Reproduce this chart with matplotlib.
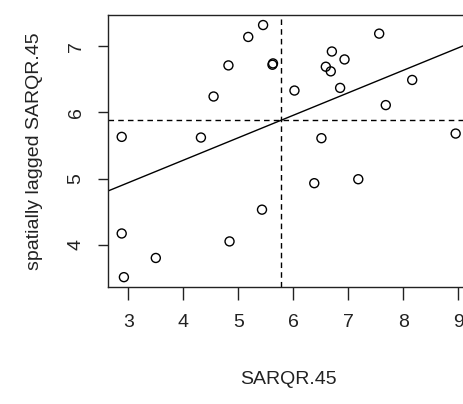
import numpy as np
import matplotlib
matplotlib.use("Agg")
import matplotlib.pyplot as plt

# Moran scatterplot data: SARQR.45 vs its spatial lag
sarqr = [2.88, 4.32, 4.55, 4.82, 5.18, 5.45, 5.62, 5.63, 6.02, 6.51,
         6.85, 6.70, 6.59, 6.68, 6.93, 7.56, 8.16, 7.68, 8.95, 2.88,
         2.92, 3.50, 4.84, 5.43, 6.38, 7.18]
lagged = [5.63, 5.62, 6.24, 6.71, 7.14, 7.32, 6.72, 6.74, 6.33, 5.61,
          6.37, 6.92, 6.69, 6.62, 6.80, 7.19, 6.49, 6.11, 5.68, 4.17,
          3.51, 3.80, 4.05, 4.53, 4.93, 4.99]
x_ticks = [3, 4, 5, 6, 7, 8, 9]
y_ticks = [4, 5, 6, 7]

plt.rcParams['font.family'] = ['Liberation Sans', 'DejaVu Sans']

x = np.array(sarqr)
y = np.array(lagged)

fig = plt.figure(figsize=(4.63, 4.04), dpi=100)
# axes run past the right edge, like the cropped original
ax = fig.add_axes([0.234, 0.289, 0.779, 0.674])

ax.scatter(x, y, s=42, facecolors='none', edgecolors='black', linewidths=1.0, zorder=3)

# R-style 4% padding on each side
xr = x.max() - x.min()
yr = y.max() - y.min()
xlim = (x.min() - 0.04 * xr, x.max() + 0.04 * xr)
ylim = (y.min() - 0.04 * yr, y.max() + 0.04 * yr)

slope, intercept = np.polyfit(x, y, 1)
xs = np.array(xlim)
ax.plot(xs, intercept + slope * xs, color='black', lw=1.0)
ax.axvline(x.mean(), color='black', lw=1.0, ls=(0, (4, 3)))
ax.axhline(y.mean(), color='black', lw=1.0, ls=(0, (4, 3)))

ax.set_xlim(xlim)
ax.set_ylim(ylim)
ax.set_xticks(x_ticks)
ax.set_yticks(y_ticks)
ax.tick_params(axis='both', width=1, labelsize=14, colors='#222222')
ax.tick_params(axis='x', length=9, pad=10)
ax.tick_params(axis='y', length=7.5, pad=9.5)
for lab in ax.get_yticklabels():
    lab.set_rotation(90)
    lab.set_va('center')

for sp in ax.spines.values():
    sp.set_linewidth(1.0)
    sp.set_color('#222222')

ax.set_xlabel('SARQR.45', fontsize=14, labelpad=29, color='#222222')
ax.set_ylabel('spatially lagged SARQR.45', fontsize=14, labelpad=18, color='#222222')

fig.savefig('out.png', dpi=100)
